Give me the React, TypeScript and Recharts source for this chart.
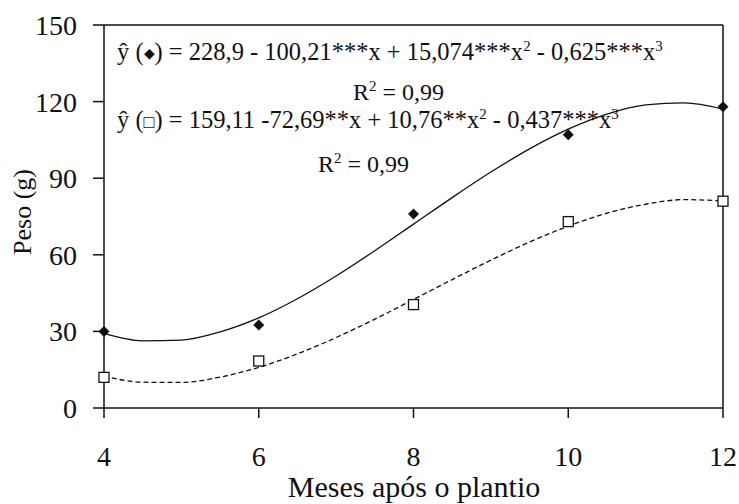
import React from 'react';
import { ComposedChart, Line, Scatter, XAxis, YAxis, ReferenceLine, Customized } from 'recharts';

// Observed data (months after planting vs. weight in g)
const months = [4, 6, 8, 10, 12];
const pesoDiamond = [30, 32.5, 76, 107, 118];
const pesoSquare = [12, 18.4, 40.5, 73, 81];

// Fitted curves
const curveX = [4, 4.5, 5, 5.5, 6, 6.5, 7, 7.5, 8, 8.5, 9, 9.5, 10, 10.5, 11, 11.5, 12];
const curveDiamond = [29.2, 26.3, 26.6, 29.8, 35.3, 42.8, 51.7, 61.6, 72.0, 82.4, 92.4, 101.5, 109.2, 115.1, 118.7, 119.5, 117.0];
const curveSquare = [12.5, 10.1, 10.0, 12.1, 15.9, 21.2, 27.6, 34.8, 42.5, 50.3, 57.9, 65.0, 71.2, 76.3, 79.8, 81.6, 81.1];

const xTicks = [4, 6, 8, 10, 12];
const yTicks = [0, 30, 60, 90, 120, 150];

const diamondPts = months.map((x, i) => ({ x, y: pesoDiamond[i] }));
const squarePts = months.map((x, i) => ({ x, y: pesoSquare[i] }));
const fitDiamond = curveX.map((x, i) => ({ x, y: curveDiamond[i] }));
const fitSquare = curveX.map((x, i) => ({ x, y: curveSquare[i] }));

const INK = '#111';
const FONT = '"Liberation Serif", "Times New Roman", serif';

const DiamondShape = (props: any) => {
  const { cx, cy } = props;
  const r = 5.5;
  return <polygon points={`${cx},${cy - r} ${cx + r},${cy} ${cx},${cy + r} ${cx - r},${cy}`} fill={INK} />;
};

const SquareShape = (props: any) => {
  const { cx, cy } = props;
  const s = 10;
  return <rect x={cx - s / 2} y={cy - s / 2} width={s} height={s} fill="#fff" stroke={INK} strokeWidth={1.3} />;
};

const Annotations = () => (
  <g fontFamily={FONT} fill={INK} style={{ whiteSpace: 'pre' }}>
    <text x={117} y={60} fontSize={24.5}>
      ŷ (<tspan fontSize={14} dy={-2}>◆</tspan><tspan dy={2}>) =  228,9 - 100,21***x + 15,074***x</tspan>
      <tspan dy={-9} fontSize={15}>2</tspan>
      <tspan dy={9}> - 0,625***x</tspan>
      <tspan dy={-9} fontSize={15}>3</tspan>
    </text>
    <text x={353} y={100} fontSize={24}>
      R<tspan dy={-9} fontSize={15}>2</tspan>
      <tspan dy={9}> = 0,99</tspan>
    </text>
    <text x={117} y={128} fontSize={24.5}>
      ŷ (<tspan fontSize={18}>□</tspan>) = 159,11 -72,69**x + 10,76**x
      <tspan dy={-9} fontSize={15}>2</tspan>
      <tspan dy={9}> - 0,437***x</tspan>
      <tspan dy={-9} fontSize={15}>3</tspan>
    </text>
    <text x={318} y={172} fontSize={24}>
      R<tspan dy={-9} fontSize={15}>2</tspan>
      <tspan dy={9}>  =  0,99</tspan>
    </text>
    <text x={414} y={497} fontSize={30} textAnchor="middle">Meses após o plantio</text>
    <text x={31} y={212} fontSize={26} textAnchor="middle" transform="rotate(-90, 31, 212)">Peso (g)</text>
  </g>
);

export default function App() {
  return (
    <div style={{ position: 'absolute', left: 0, top: 0, background: '#fff' }}>
      <ComposedChart
        width={739}
        height={504}
        margin={{ top: 25, right: 16, left: 0, bottom: 0 }}
        style={{ fontFamily: FONT }}
      >
        <XAxis
          type="number"
          dataKey="x"
          domain={[4, 12]}
          ticks={xTicks}
          height={96}
          tickSize={10}
          tickMargin={28}
          stroke={INK}
          strokeWidth={1.5}
          tick={{ fontSize: 28, fill: INK, fontFamily: FONT }}
        />
        <YAxis
          type="number"
          dataKey="y"
          domain={[0, 150]}
          ticks={yTicks}
          width={104}
          tickSize={11}
          tickMargin={16}
          stroke={INK}
          strokeWidth={1.5}
          tick={{ fontSize: 28, fill: INK, fontFamily: FONT }}
        />
        <ReferenceLine y={150} stroke={INK} strokeWidth={1.5} />
        <ReferenceLine x={12} stroke={INK} strokeWidth={1.5} />
        <Line
          data={fitDiamond}
          dataKey="y"
          type="monotone"
          stroke={INK}
          strokeWidth={1.3}
          dot={false}
          activeDot={false}
          isAnimationActive={false}
        />
        <Line
          data={fitSquare}
          dataKey="y"
          type="monotone"
          stroke={INK}
          strokeWidth={1.3}
          strokeDasharray="5 3"
          dot={false}
          activeDot={false}
          isAnimationActive={false}
        />
        <Scatter data={diamondPts} dataKey="y" shape={DiamondShape} isAnimationActive={false} />
        <Scatter data={squarePts} dataKey="y" shape={SquareShape} isAnimationActive={false} />
        <Customized component={Annotations} />
      </ComposedChart>
    </div>
  );
}
